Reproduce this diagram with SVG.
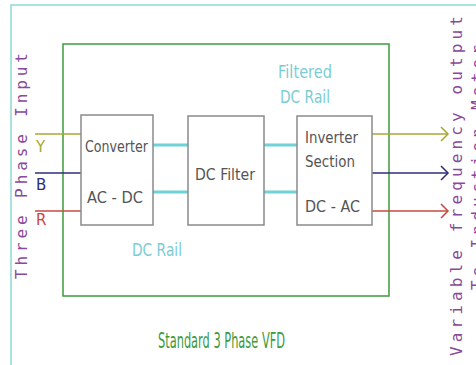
<svg xmlns="http://www.w3.org/2000/svg" width="476" height="365" viewBox="0 0 476 365">
<defs>
<style>
.box{fill:#fff;stroke:#8a8a8a;stroke-width:1.5}
.bt{font-family:"DejaVu Sans","Liberation Sans",sans-serif;font-size:15.5px;fill:#555}
.ct{font-family:"DejaVu Sans","Liberation Sans",sans-serif;font-size:17px;fill:#7cccd4}
.vt{font-family:"DejaVu Sans Mono","Liberation Mono",monospace;font-size:16px;fill:#8a4a9a}
.ph{font-family:"DejaVu Sans","Liberation Sans",sans-serif;font-size:15px}
.rail{stroke:#6fd2d8;stroke-width:3;fill:none}
.y{stroke:#a8a830;stroke-width:1.5;fill:none}
.b{stroke:#2e2e78;stroke-width:1.5;fill:none}
.r{stroke:#c84840;stroke-width:1.5;fill:none}
</style>
<marker id="ay" markerWidth="10" markerHeight="16" refX="8" refY="8" orient="auto" markerUnits="userSpaceOnUse"><path d="M1,1 L8,8 L1,15" fill="none" stroke="#a8a830" stroke-width="1.5"/></marker>
<marker id="ab" markerWidth="10" markerHeight="16" refX="8" refY="8" orient="auto" markerUnits="userSpaceOnUse"><path d="M1,1 L8,8 L1,15" fill="none" stroke="#2e2e78" stroke-width="1.5"/></marker>
<marker id="ar" markerWidth="10" markerHeight="16" refX="8" refY="8" orient="auto" markerUnits="userSpaceOnUse"><path d="M1,1 L8,8 L1,15" fill="none" stroke="#c84840" stroke-width="1.5"/></marker>
</defs>
<rect width="476" height="365" fill="#fff"/>
<path d="M11,365 V5 H476" fill="none" stroke="#8fd8d8" stroke-width="1.5"/>
<rect id="vfd" x="63" y="44" width="326" height="252" fill="none" stroke="#3c9a3c" stroke-width="1.5"/>

<g id="connectors">
<line class="y" x1="35" y1="134" x2="81" y2="134"/>
<line class="b" x1="35" y1="173" x2="81" y2="173"/>
<line class="r" x1="35" y1="211" x2="81" y2="211"/>
<line class="rail" x1="153" y1="145" x2="188" y2="145"/>
<line class="rail" x1="153" y1="192" x2="188" y2="192"/>
<line class="rail" x1="264" y1="145" x2="297" y2="145"/>
<line class="rail" x1="264" y1="192" x2="297" y2="192"/>
<line class="y" x1="372" y1="134" x2="448" y2="134" marker-end="url(#ay)"/>
<line class="b" x1="372" y1="173" x2="448" y2="173" marker-end="url(#ab)"/>
<line class="r" x1="372" y1="211" x2="448" y2="211" marker-end="url(#ar)"/>
</g>

<g id="converter">
<rect class="box" x="81" y="115" width="72" height="110"/>
<text class="bt" x="85" y="152" textLength="63" lengthAdjust="spacingAndGlyphs">Converter</text>
<text class="bt" x="87" y="203" textLength="56" lengthAdjust="spacingAndGlyphs">AC - DC</text>
</g>
<g id="dcfilter">
<rect class="box" x="188" y="116" width="76" height="109"/>
<text class="bt" x="195" y="180" textLength="60" lengthAdjust="spacingAndGlyphs">DC Filter</text>
</g>
<g id="inverter">
<rect class="box" x="297" y="116" width="75" height="109"/>
<text class="bt" x="305" y="143" textLength="53" lengthAdjust="spacingAndGlyphs">Inverter</text>
<text class="bt" x="305" y="167" textLength="50" lengthAdjust="spacingAndGlyphs">Section</text>
<text class="bt" x="305" y="212" textLength="55" lengthAdjust="spacingAndGlyphs">DC - AC</text>
</g>

<g id="labels">
<text class="ct" x="278" y="78" textLength="54" lengthAdjust="spacingAndGlyphs">Filtered</text>
<text class="ct" x="280" y="103" textLength="50" lengthAdjust="spacingAndGlyphs">DC Rail</text>
<text class="ct" x="132" y="256" textLength="50" lengthAdjust="spacingAndGlyphs">DC Rail</text>
<text x="158" y="348" font-family="'DejaVu Sans','Liberation Sans',sans-serif" font-size="21" fill="#3c9a3c" textLength="127" lengthAdjust="spacingAndGlyphs">Standard 3 Phase VFD</text>
<text class="ph" x="36" y="152" fill="#a8a830">Y</text>
<text class="ph" x="36" y="190" fill="#2e2e78">B</text>
<text class="ph" x="36" y="225" fill="#c84840">R</text>
<text class="vt" transform="translate(27,279) rotate(-90)" x="0" y="0" textLength="226" lengthAdjust="spacing">Three Phase Input</text>
<text class="vt" transform="translate(462,356) rotate(-90)" x="0" y="0" textLength="340" lengthAdjust="spacing">Variable frequency output</text>
<text class="vt" transform="translate(483,290) rotate(-90)" x="0" y="0" textLength="245" lengthAdjust="spacing">To Induction Motor</text>
</g>
</svg>
